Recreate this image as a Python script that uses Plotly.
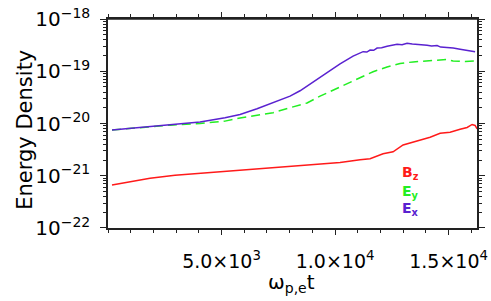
import plotly.graph_objects as go

# Ex (purple, solid)
ex_t = [176, 1410, 2731, 4053, 5154, 5815, 6563, 7268, 8017, 8458, 9031, 9648, 10220,
        10793, 11233, 11400, 11541, 11700, 11850, 12050, 12290, 12500, 12731, 12950, 13171,
        13400, 13612, 13850, 14052, 14250, 14493, 14650, 14933, 15200, 15506, 15850, 16166]
ex_v = [7.50e-21, 8.41e-21, 9.37e-21, 1.07e-20, 1.29e-20, 1.49e-20, 1.91e-20, 2.47e-20,
        3.34e-20, 4.23e-20, 6.10e-20, 9.38e-20, 1.38e-19, 1.95e-19, 2.37e-19, 2.33e-19,
        2.55e-19, 2.52e-19, 2.78e-19, 2.82e-19, 3.00e-19, 3.10e-19, 3.27e-19, 3.22e-19,
        3.45e-19, 3.33e-19, 3.30e-19, 3.22e-19, 3.15e-19, 3.05e-19, 3.10e-19, 2.90e-19,
        2.88e-19, 2.78e-19, 2.65e-19, 2.52e-19, 2.37e-19]

# Ey (green, dashed)
ey_t = [176, 1410, 2731, 4053, 5154, 5815, 6696, 7268, 8149, 8766, 9339, 9912, 10529,
        11101, 11674, 12290, 12863, 13436, 14052, 14493, 14933, 15197, 15726, 16210]
ey_v = [7.50e-21, 8.41e-21, 9.30e-21, 1.00e-20, 1.11e-20, 1.28e-20, 1.47e-20, 1.61e-20,
        2.08e-20, 2.47e-20, 3.34e-20, 4.33e-20, 5.84e-20, 7.56e-20, 9.79e-20, 1.21e-19,
        1.41e-19, 1.51e-19, 1.57e-19, 1.64e-19, 1.68e-19, 1.57e-19, 1.54e-19, 1.57e-19]

# Bz (red, solid)
bz_t = [176, 969, 1850, 2951, 4053, 5154, 6255, 7268, 8766, 10220, 11101, 11541, 12114,
        12554, 12995, 13436, 13744, 14185, 14625, 15066, 15506, 15815, 16035, 16166, 16254]
bz_v = [6.64e-22, 7.73e-22, 8.97e-22, 1.02e-21, 1.11e-21, 1.21e-21, 1.32e-21, 1.44e-21,
        1.57e-21, 1.79e-21, 2.03e-21, 2.12e-21, 2.63e-21, 2.87e-21, 3.88e-21, 4.42e-21,
        4.81e-21, 5.47e-21, 6.50e-21, 6.79e-21, 7.73e-21, 8.41e-21, 9.58e-21, 9.18e-21,
        7.90e-21]

x_tickvals = [5000, 10000, 15000]
x_ticktext = ["5.0×10<sup>3</sup>", "1.0×10<sup>4</sup>", "1.5×10<sup>4</sup>"]
y_tickvals = [1e-22, 1e-21, 1e-20, 1e-19, 1e-18]
y_ticktext = ["10<sup>−22</sup>", "10<sup>−21</sup>", "10<sup>−20</sup>",
              "10<sup>−19</sup>", "10<sup>−18</sup>"]

RED = "#ff1a1a"
GREEN = "#22ee22"
PURPLE = "#5a22d0"
AX = "#222222"
FONT = "DejaVu Sans"

fig = go.Figure()
fig.add_trace(go.Scatter(x=bz_t, y=bz_v, mode="lines", line=dict(color=RED, width=1.5)))
fig.add_trace(go.Scatter(x=ey_t, y=ey_v, mode="lines",
                         line=dict(color=GREEN, width=1.5, dash="9px,5px")))
fig.add_trace(go.Scatter(x=ex_t, y=ex_v, mode="lines", line=dict(color=PURPLE, width=1.5)))

fig.update_layout(
    width=491, height=301,
    margin=dict(l=108, r=14, t=19, b=73, autoexpand=False),
    plot_bgcolor="white", paper_bgcolor="white",
    showlegend=False,
    font=dict(family=FONT, color="black", size=18),
)
fig.update_xaxes(
    range=[0, 16250], showgrid=False, zeroline=False,
    showline=True, linecolor=AX, linewidth=1.5, mirror="allticks",
    ticks="outside", ticklen=5, tickwidth=1.2, tickcolor=AX,
    tickvals=x_tickvals, ticktext=x_ticktext, ticklabelstandoff=10,
    tickfont=dict(family=FONT, size=19),
    minor=dict(ticks="outside", ticklen=3, tickwidth=1, tickcolor=AX, dtick=1000, tick0=0),
)
fig.update_yaxes(
    type="log", range=[-22.0002, -17.9998], showgrid=False, zeroline=False,
    showline=True, linecolor=AX, linewidth=1.5, mirror="allticks",
    ticks="outside", ticklen=6, tickwidth=1.2, tickcolor=AX,
    tickvals=y_tickvals, ticktext=y_ticktext, ticklabelstandoff=6,
    tickfont=dict(family=FONT, size=20),
    minor=dict(ticks="outside", ticklen=3, tickwidth=1, tickcolor=AX, dtick="D1"),
)

fig.add_shape(type="line", xref="paper", yref="paper", x0=0, x1=1, y0=1, y1=1,
              line=dict(color=AX, width=1.5))

fig.add_annotation(text="Energy Density", xref="paper", yref="paper",
                   x=-0.225, y=0.47, xanchor="center", yanchor="middle",
                   textangle=-90, showarrow=False, font=dict(family=FONT, size=21))
fig.add_annotation(text="ω<sub>p,e</sub>t", xref="paper", yref="paper",
                   x=0.496, y=-0.262, xanchor="center", yanchor="middle",
                   showarrow=False, font=dict(family=FONT, size=20))

for txt, col, yp in [("B<sub>z</sub>", RED, 0.263), ("E<sub>y</sub>", GREEN, 0.174),
                     ("E<sub>x</sub>", PURPLE, 0.092)]:
    fig.add_annotation(text="<b>" + txt + "</b>", xref="paper", yref="paper",
                       x=0.79, y=yp, xanchor="left", yanchor="middle",
                       showarrow=False, font=dict(family=FONT, size=14, color=col))

fig.write_html("out.html", config={"displayModeBar": False},
               post_script="document.body.style.margin='0';document.body.style.overflow='hidden';")
